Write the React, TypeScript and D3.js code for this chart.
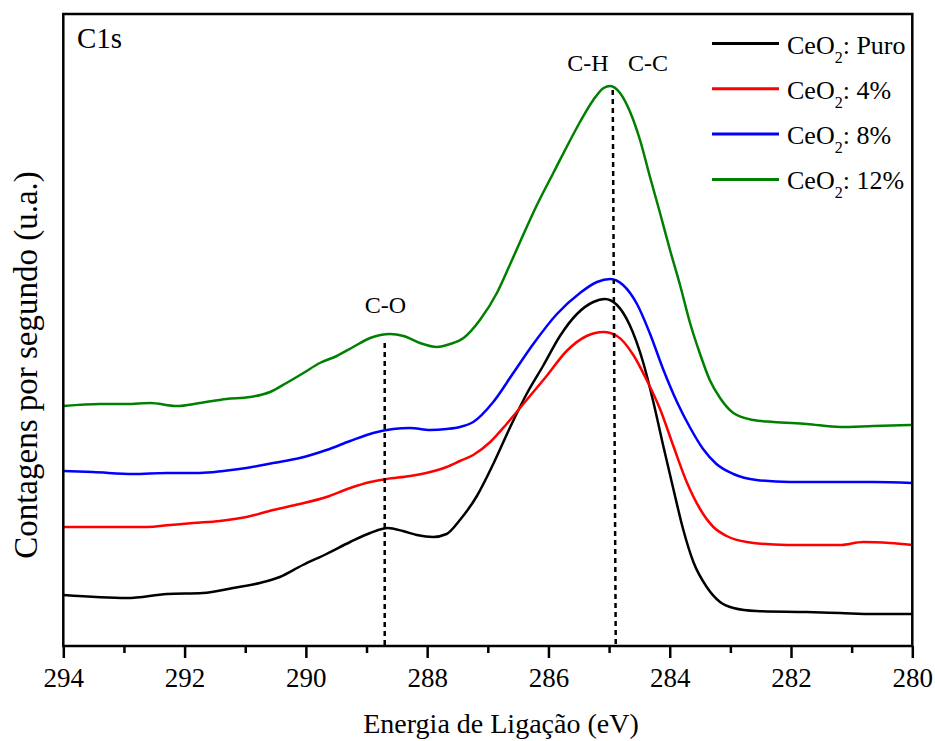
import React, { useEffect, useRef } from 'react';
import * as d3 from 'd3';

const WIDTH = 935;
const HEIGHT = 741;

// C1s spectra: [binding energy (eV), intensity (a.u.)]
const puro: [number, number][] = [
  [294.0, 51], [292.95, 48], [292.29, 52], [291.7, 53], [291.2, 58], [290.76, 63],
  [290.43, 69], [290.05, 81], [289.66, 92], [289.27, 104], [288.94, 113], [288.65, 118],
  [288.4, 115], [288.17, 111], [287.9, 109], [287.68, 112], [287.46, 126], [287.18, 150],
  [286.91, 182], [286.63, 219], [286.36, 252], [286.08, 281], [285.81, 310], [285.53, 332],
  [285.26, 344], [285.07, 347], [284.87, 341], [284.66, 321], [284.44, 284], [284.27, 244],
  [284.11, 201], [283.94, 157], [283.78, 117], [283.61, 84], [283.39, 59], [283.17, 44],
  [282.95, 38], [282.57, 35], [281.74, 34], [281.19, 33], [280.64, 32], [280.0, 32],
];

const ceo4: [number, number][] = [
  [294.0, 119], [293.56, 119], [292.62, 119], [292.24, 121], [291.86, 123], [291.42, 125],
  [290.98, 129], [290.54, 136], [290.1, 142], [289.66, 149], [289.27, 158], [288.94, 164],
  [288.67, 167], [288.28, 170], [287.95, 174], [287.68, 179], [287.46, 185], [287.24, 191],
  [286.96, 204], [286.69, 222], [286.36, 246], [286.03, 270], [285.7, 295], [285.37, 310],
  [285.09, 314], [284.87, 310], [284.6, 291], [284.38, 266], [284.16, 237], [283.94, 200],
  [283.72, 164], [283.5, 137], [283.28, 119], [283.06, 110], [282.73, 104], [282.07, 101],
  [281.19, 101], [280.81, 104], [280.37, 103], [280.0, 101],
];

const ceo8: [number, number][] = [
  [294.0, 175], [293.51, 174], [292.85, 172], [292.29, 173], [291.75, 173], [291.36, 175],
  [290.98, 178], [290.54, 183], [290.1, 188], [289.66, 196], [289.27, 205], [288.89, 213],
  [288.56, 217], [288.28, 218], [287.95, 216], [287.68, 217], [287.46, 219], [287.24, 224],
  [286.91, 244], [286.58, 273], [286.25, 302], [285.86, 332], [285.48, 353], [285.2, 364],
  [284.98, 367], [284.77, 361], [284.54, 342], [284.33, 313], [284.11, 277], [283.88, 244],
  [283.67, 219], [283.45, 197], [283.23, 182], [282.95, 172], [282.57, 166], [282.02, 164],
  [281.19, 164], [280.64, 164], [280.0, 163],
];

const ceo12: [number, number][] = [
  [294.0, 240], [293.39, 242], [292.95, 242], [292.57, 243], [292.13, 240], [291.75, 243],
  [291.31, 247], [290.92, 249], [290.59, 254], [290.32, 263], [290.04, 273], [289.77, 283],
  [289.49, 290], [289.22, 299], [288.94, 308], [288.61, 312], [288.39, 310], [288.12, 303],
  [287.84, 299], [287.62, 302], [287.4, 308], [287.13, 326], [286.85, 353], [286.63, 382],
  [286.41, 412], [286.19, 441], [285.92, 473], [285.7, 499], [285.48, 524], [285.26, 546],
  [285.09, 558], [284.98, 560], [284.82, 553], [284.66, 535], [284.49, 506], [284.33, 470],
  [284.16, 433], [284.0, 397], [283.83, 361], [283.67, 324], [283.5, 292], [283.34, 266],
  [283.17, 248], [282.95, 233], [282.62, 226], [282.29, 224], [281.74, 222], [281.19, 219],
  [280.64, 220], [280.0, 221],
];

const seriesLabels = ['Puro', '4%', '8%', '12%'];
const seriesColors = ['#000000', '#ff0000', '#0000ff', '#008000'];

const majorTicks = [294, 292, 290, 288, 286, 284, 282, 280];
const minorTicks = [293, 291, 289, 287, 285, 283, 281];

// Reference lines: energy at the top and bottom end, and the intensity where the line stops
const refLines = [
  { evTop: 288.7, evBottom: 288.7, top: 303 },
  { evTop: 284.94, evBottom: 284.89, top: 556 },
];
const peakLabels = [
  { text: 'C-O', ev: 288.69 },
  { text: 'C-H', ev: 285.35 },
  { text: 'C-C', ev: 284.36 },
];

const FONT = '"Liberation Serif", "Times New Roman", serif';

export default function App() {
  const ref = useRef<SVGSVGElement | null>(null);

  useEffect(() => {
    const svg = d3.select(ref.current);
    svg.selectAll('*').remove();

    const left = 63.3, right = 912.3, top = 14, bottom = 646;
    const x = d3.scaleLinear().domain([294, 280]).range([left, right]);
    const y = d3.scaleLinear().domain([0, 632]).range([bottom, top]);

    const g = svg.append('g');

    // curves
    const line = d3
      .line<[number, number]>()
      .x((d) => x(d[0]))
      .y((d) => y(d[1]))
      .curve(d3.curveMonotoneX);

    const allSeries = [puro, ceo4, ceo8, ceo12];
    allSeries.forEach((s, i) => {
      g.append('path')
        .attr('d', line(s) as string)
        .attr('fill', 'none')
        .attr('stroke', seriesColors[i])
        .attr('stroke-width', 2.5)
        .attr('stroke-linejoin', 'round');
    });

    // dashed reference lines
    refLines.forEach((r) => {
      g.append('line')
        .attr('x1', x(r.evTop))
        .attr('x2', x(r.evBottom))
        .attr('y1', y(r.top))
        .attr('y2', y(0))
        .attr('stroke', '#000')
        .attr('stroke-width', 2.5)
        .attr('stroke-dasharray', '5,4');
    });

    // peak labels
    peakLabels.forEach((p, i) => {
      g.append('text')
        .attr('x', x(p.ev))
        .attr('y', i === 0 ? 313 : 71)
        .attr('text-anchor', 'middle')
        .attr('font-family', FONT)
        .attr('font-size', 24)
        .attr('fill', '#000')
        .text(p.text);
    });

    // bottom axis: major ticks with labels
    const axisMajor = d3
      .axisBottom(x)
      .tickValues(majorTicks)
      .tickSize(12)
      .tickSizeOuter(0)
      .tickPadding(10)
      .tickFormat((d) => d3.format('d')(d as number));
    const ax = g.append('g').attr('transform', `translate(0,${bottom})`).call(axisMajor);
    ax.select('.domain').remove();
    ax.selectAll('line').attr('stroke', '#000').attr('stroke-width', 2.5);
    ax.selectAll('text')
      .attr('font-family', FONT)
      .attr('font-size', 27)
      .attr('fill', '#000');

    // bottom axis: minor ticks
    const axisMinor = d3
      .axisBottom(x)
      .tickValues(minorTicks)
      .tickSize(7)
      .tickSizeOuter(0)
      .tickFormat(() => '');
    const axm = g.append('g').attr('transform', `translate(0,${bottom})`).call(axisMinor);
    axm.select('.domain').remove();
    axm.selectAll('line').attr('stroke', '#000').attr('stroke-width', 2.5);

    // frame
    g.append('rect')
      .attr('x', left)
      .attr('y', top)
      .attr('width', right - left)
      .attr('height', bottom - top)
      .attr('fill', 'none')
      .attr('stroke', '#000')
      .attr('stroke-width', 2.5);

    // axis titles
    g.append('text')
      .attr('x', 501)
      .attr('y', 733)
      .attr('text-anchor', 'middle')
      .attr('font-family', FONT)
      .attr('font-size', 28)
      .attr('fill', '#000')
      .text('Energia de Ligação (eV)');

    g.append('text')
      .attr('transform', 'translate(37,365) rotate(-90)')
      .attr('text-anchor', 'middle')
      .attr('font-family', FONT)
      .attr('font-size', 33)
      .attr('fill', '#000')
      .text('Contagens por segundo (u.a.)');

    // panel label
    g.append('text')
      .attr('x', 77)
      .attr('y', 48)
      .attr('font-family', FONT)
      .attr('font-size', 29)
      .attr('fill', '#000')
      .text('C1s');

    // legend
    const legend = g.append('g');
    seriesLabels.forEach((lab, i) => {
      const ly = 43.5 + i * 45.3;
      legend
        .append('line')
        .attr('x1', 712)
        .attr('x2', 779)
        .attr('y1', ly)
        .attr('y2', ly)
        .attr('stroke', seriesColors[i])
        .attr('stroke-width', 3);
      const t = legend
        .append('text')
        .attr('x', 787)
        .attr('y', ly + 10)
        .attr('font-family', FONT)
        .attr('font-size', 26)
        .attr('fill', '#000');
      t.append('tspan').text('CeO');
      t.append('tspan').attr('font-size', 16).attr('dy', 9).text('2');
      t.append('tspan').attr('dy', -9).text(': ' + lab);
    });
  }, []);

  return (
    <svg
      ref={ref}
      width={WIDTH}
      height={HEIGHT}
      style={{ position: 'absolute', left: 0, top: 0, background: '#fff' }}
    />
  );
}
